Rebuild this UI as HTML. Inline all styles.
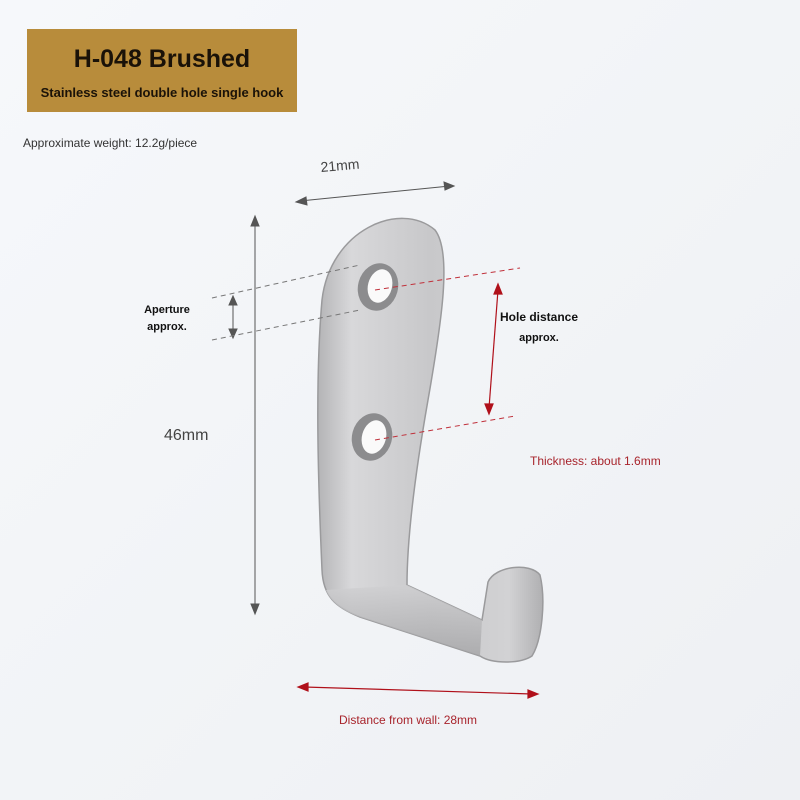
<!DOCTYPE html>
<html><head><meta charset="utf-8"><style>
body{margin:0;width:800px;height:800px;overflow:hidden;background:#f3f5f8;font-family:"Liberation Sans",sans-serif}
svg{position:absolute;left:0;top:0}
.t{font-family:"Liberation Sans",sans-serif}
</style></head><body>
<svg width="800" height="800" viewBox="0 0 800 800">
<defs>
<linearGradient id="bg" x1="0" y1="0" x2="1" y2="1"><stop offset="0" stop-color="#f6f8fb"/><stop offset="1" stop-color="#eef0f3"/></linearGradient>
<linearGradient id="metal" x1="0" y1="0" x2="1" y2="0"><stop offset="0" stop-color="#b4b4b6"/><stop offset="0.15" stop-color="#d8d8da"/><stop offset="0.5" stop-color="#c8c8ca"/><stop offset="0.85" stop-color="#d2d2d4"/><stop offset="1" stop-color="#b0b0b2"/></linearGradient>
<linearGradient id="arm" x1="0" y1="0" x2="0" y2="1"><stop offset="0" stop-color="#d0d0d2"/><stop offset="1" stop-color="#a4a4a6"/></linearGradient>
</defs>
<rect width="800" height="800" fill="url(#bg)"/>
<rect x="27" y="29" width="270" height="83" fill="#b88c3b"/>
<text x="162" y="67" text-anchor="middle" font-size="25" font-weight="bold" fill="#1a1208" class="t">H-048 Brushed</text>
<text x="162" y="97" text-anchor="middle" font-size="13" font-weight="bold" fill="#1a1208" class="t">Stainless steel double hole single hook</text>
<text x="23" y="147" font-size="12" fill="#333" class="t">Approximate weight: 12.2g/piece</text>

<path d="M322 300 C330 230,400 200,435 230 C452 252,442 320,428 400 C414 480,407 540,407 585 L482 620 L488 582 C495 566,530 562,540 575 C546 600,542 640,532 656 C520 664,492 664,480 656 L360 617 C335 607,323 596,322 570 C318 480,315 380,322 300 Z" fill="url(#metal)" stroke="#9a9a9c" stroke-width="1.5"/>
<path d="M407 585 L482 620 L480 656 L360 617 C340 610,330 600,326 590 Z" fill="url(#arm)" opacity="0.8"/>
<ellipse cx="378" cy="287" rx="20" ry="24" fill="#8c8c8e" transform="rotate(15 378 287)"/>
<ellipse cx="380" cy="286" rx="12" ry="17" fill="#fafafa" transform="rotate(15 380 286)"/>
<ellipse cx="372" cy="437" rx="20" ry="24" fill="#8c8c8e" transform="rotate(15 372 437)"/>
<ellipse cx="374" cy="437" rx="12" ry="17" fill="#fafafa" transform="rotate(15 374 437)"/>

<g stroke="#555" stroke-width="1" fill="#555">
<line x1="255" y1="222" x2="255" y2="610"/>
<path d="M255 216 l-4 10 h8z M255 614 l-4 -10 h8z"/>
<line x1="300" y1="201" x2="450" y2="186"/>
<path d="M296 202 l10 -5 l1 8z M454 186 l-10 -4 l1 8z"/>
<line x1="233" y1="300" x2="233" y2="333"/>
<path d="M233 296 l-4 9 h8z M233 338 l-4 -9 h8z"/>
</g>
<g stroke="#777" stroke-width="1" stroke-dasharray="5,4">
<line x1="212" y1="298" x2="360" y2="265"/>
<line x1="212" y1="340" x2="360" y2="310"/>
</g>
<g stroke="#c0303a" stroke-width="1" stroke-dasharray="5,4">
<line x1="375" y1="290" x2="520" y2="268"/>
<line x1="375" y1="440" x2="515" y2="416"/>
</g>
<g stroke="#b0101a" stroke-width="1.2" fill="#b0101a">
<line x1="498" y1="290" x2="489" y2="408"/>
<path d="M498 284 l-4 10 h8z M489 414 l-4 -10 h8z"/>
<line x1="304" y1="687" x2="532" y2="694"/>
<path d="M298 687 l10 -4 v8z M538 694 l-10 -4 v8z"/>
</g>
<text x="321" y="172" font-size="14" fill="#444" transform="rotate(-5 321 172)">21mm</text>
<text x="164" y="440" font-size="16" fill="#444">46mm</text>
<text x="167" y="313" text-anchor="middle" font-size="11" font-weight="bold" fill="#111">Aperture</text>
<text x="167" y="330" text-anchor="middle" font-size="11" font-weight="bold" fill="#111">approx.</text>
<text x="539" y="321" text-anchor="middle" font-size="12" font-weight="bold" fill="#111">Hole distance</text>
<text x="539" y="341" text-anchor="middle" font-size="11" font-weight="bold" fill="#111">approx.</text>
<text x="530" y="465" font-size="12" fill="#a8242c">Thickness: about 1.6mm</text>
<text x="339" y="724" font-size="12" fill="#a8242c">Distance from wall: 28mm</text>
</svg>
</body></html>
